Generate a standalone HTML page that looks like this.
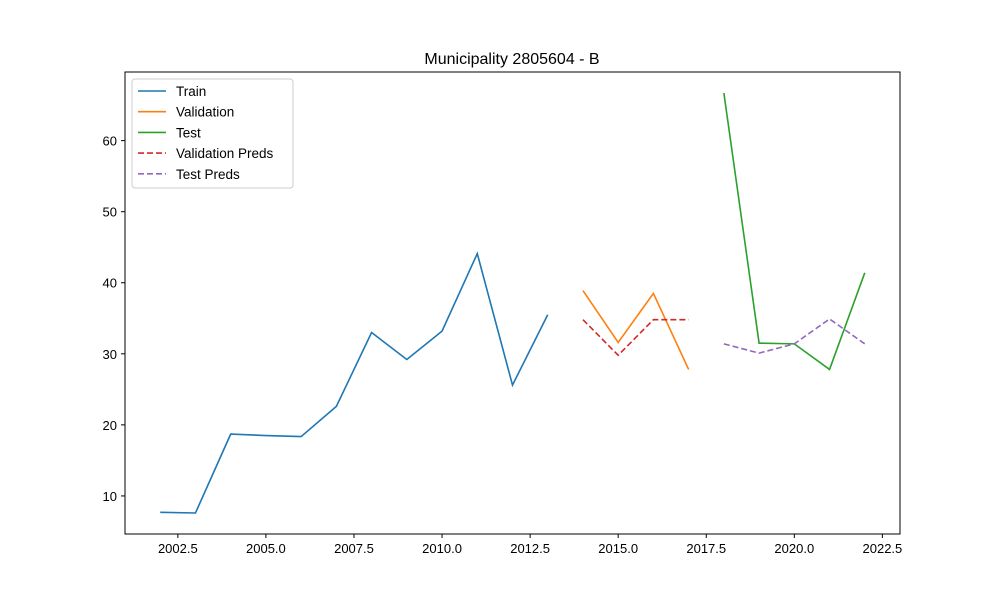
<!DOCTYPE html>
<html><head><meta charset="utf-8"><style>body{margin:0;background:#fff}svg{font-family:"Liberation Sans","DejaVu Sans",sans-serif}</style></head>
<body>
<svg id="c" width="1000" height="600"></svg>
<script>
const years=[2002,2003,2004,2005,2006,2007,2008,2009,2010,2011,2012,2013,2014,2015,2016,2017,2018,2019,2020,2021,2022];
const trainY=[2002,2003,2004,2005,2006,2007,2008,2009,2010,2011,2012,2013];
const trainV=[7.7,7.6,18.7,18.5,18.35,22.6,33,29.2,33.2,44.1,25.6,35.5];
const valY=[2014,2015,2016,2017];
const valV=[38.9,31.6,38.5,27.8];
const testY=[2018,2019,2020,2021,2022];
const testV=[66.7,31.5,31.4,27.8,41.4];
const valPredV=[34.8,29.8,34.8,34.8];
const testPredV=[31.4,30.1,31.4,34.9,31.4];
const xTicks=[2002.5,2005,2007.5,2010,2012.5,2015,2017.5,2020,2022.5];
const yTicks=[10,20,30,40,50,60];
const L=125,R=900,T=72,B=534;
const xmin=2001,xmax=2023,ymin=4.645,ymax=69.655;
const X=v=>L+(v-xmin)/(xmax-xmin)*(R-L);
const Y=v=>B-(v-ymin)/(ymax-ymin)*(B-T);
const svg=document.getElementById('c');const NS='http://www.w3.org/2000/svg';
function mk(t,a,p){const e=document.createElementNS(NS,t);for(const k in a)e.setAttribute(k,a[k]);(p||svg).appendChild(e);return e;}
let t=mk('text',{x:512,y:64,'text-anchor':'middle','font-size':16});t.textContent='Municipality 2805604 - B';


xTicks.forEach(v=>{const g=mk('g',{});


mk('line',{x1:X(v),x2:X(v),y1:B,y2:B+4,stroke:'#000'},g);
const tx=mk('text',{x:X(v),y:B+19,'text-anchor':'middle','font-size':13},g);tx.textContent=v.toFixed(1);});
yTicks.forEach(v=>{const g=mk('g',{});


mk('line',{x1:L-4,x2:L,y1:Y(v),y2:Y(v),stroke:'#000'},g);
const tx=mk('text',{x:L-8,y:Y(v)+5,'text-anchor':'end','font-size':13},g);tx.textContent=v;});
function line(xs,vs,col,dash,name){const p=mk('polyline',{points:xs.map((x,i)=>X(x)+','+Y(vs[i])).join(' '),fill:'none',stroke:col,'stroke-width':1.6,'stroke-dasharray':dash||'none'});

}
line(trainY,trainV,'#1f77b4',null,'train-line');
line(valY,valV,'#ff7f0e',null,'validation-line');
line(testY,testV,'#2ca02c',null,'test-line');
line(valY,valPredV,'#d62728','6,3','validation-preds-line');
line(testY,testPredV,'#9467bd','6,3','test-preds-line');
const fr=mk('rect',{x:L,y:T,width:R-L,height:B-T,fill:'none',stroke:'#000','stroke-width':1});


const lg=mk('g',{});


mk('rect',{x:132,y:79,width:161,height:109,rx:3,fill:'#fff',stroke:'#ccc'},lg);
const items=[['Train','#1f77b4',null],['Validation','#ff7f0e',null],['Test','#2ca02c',null],['Validation Preds','#d62728','6,3'],['Test Preds','#9467bd','6,3']];
items.forEach((it,i)=>{const y=91+i*20.7;const g=mk('g',{},lg);


mk('line',{x1:138,x2:166,y1:y,y2:y,stroke:it[1],'stroke-width':1.6,'stroke-dasharray':it[2]||'none'},g);
const tx=mk('text',{x:176,y:y+5,'font-size':13.5},g);tx.textContent=it[0];});
</script>
</body></html>
